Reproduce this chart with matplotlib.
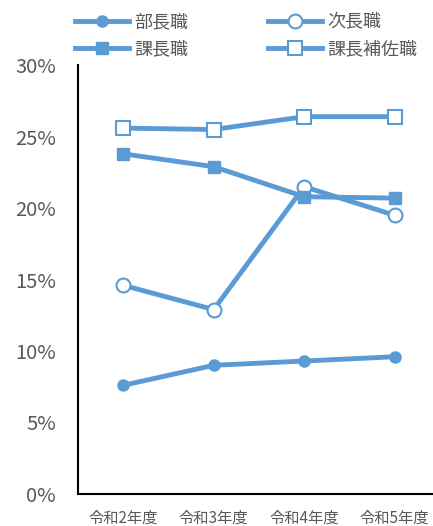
import numpy as np
import matplotlib.pyplot as plt
from matplotlib.ticker import FuncFormatter

plt.rcParams['font.family'] = ['Noto Sans CJK JP', 'DejaVu Sans']

years = ['令和2年度', '令和3年度', '令和4年度', '令和5年度']
buchou = [7.6, 9.0, 9.3, 9.6]
jichou = [14.6, 12.9, 21.5, 19.5]
kachou = [23.8, 22.9, 20.8, 20.7]
kachou_hosa = [25.6, 25.5, 26.4, 26.4]

col = '#5B9BD5'
gray = '#595959'

fig = plt.figure(figsize=(4.33, 5.26), dpi=100)
ax = fig.add_axes([0.180, 0.061, 0.836, 0.815])
x = np.arange(len(years))

l1, = ax.plot(x, buchou, color=col, lw=3.5, marker='o', ms=8, mfc=col, mec=col, label='部長職')
l2, = ax.plot(x, jichou, color=col, lw=3.5, marker='o', ms=10, mfc='white', mec=col, mew=1.5, label='次長職')
l3, = ax.plot(x, kachou, color=col, lw=3.5, marker='s', ms=8, mfc=col, mec=col, label='課長職')
l4, = ax.plot(x, kachou_hosa, color=col, lw=3.5, marker='s', ms=10, mfc='white', mec=col, mew=1.5, label='課長補佐職')

ax.set_xlim(-0.5, 3.5)
ax.set_ylim(0, 30)
ax.set_yticks(np.arange(0, 31, 5))
ax.yaxis.set_major_formatter(FuncFormatter(lambda v, p: '%d%%' % v))
ax.set_xticks(x)
ax.set_xticklabels(years)
ax.tick_params(axis='y', length=0, labelsize=14.5, labelcolor=gray, pad=16)
ax.tick_params(axis='x', length=0, labelsize=11, labelcolor=gray, pad=11)
for s in ['top', 'right']:
    ax.spines[s].set_visible(False)
for s in ['left', 'bottom']:
    ax.spines[s].set_color('black')
    ax.spines[s].set_linewidth(1.5)

# column-first fill, so order gives rows 部長職/次長職 and 課長職/課長補佐職
leg = fig.legend([l1, l3, l2, l4], ['部長職', '課長職', '次長職', '課長補佐職'],
                 ncol=2, loc='upper left', bbox_to_anchor=(0.135, 1.005), frameon=False,
                 fontsize=13, labelcolor=gray, handlelength=3.0, handletextpad=0.3,
                 columnspacing=4.4, labelspacing=0.5)

fig.savefig('out.png', dpi=100)
